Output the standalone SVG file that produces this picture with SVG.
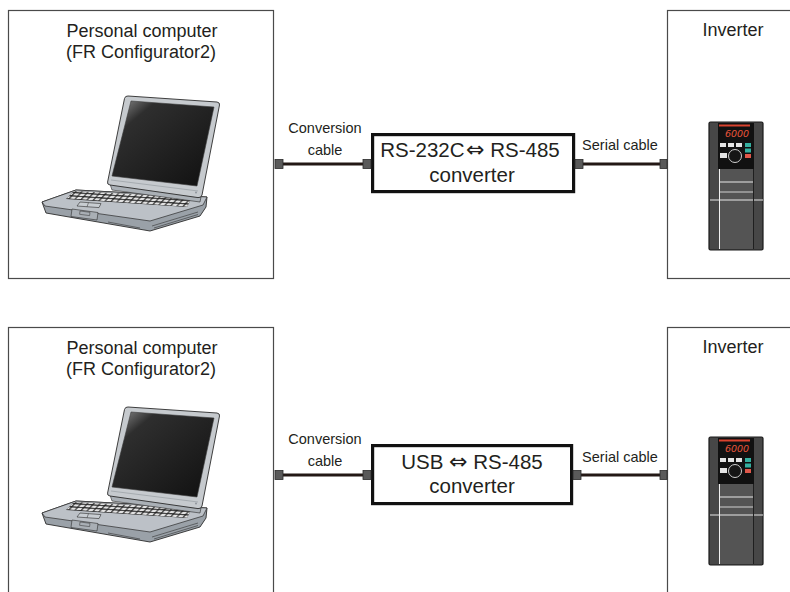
<svg xmlns="http://www.w3.org/2000/svg" width="790" height="592" viewBox="0 0 790 592">
  <style>
    .frame { fill: #ffffff; stroke: #4a4a4a; stroke-width: 1.2; }
    .conv { fill: #ffffff; stroke: #111111; stroke-width: 3.2; }
    .lbl { font-family: "Liberation Sans", Arial, sans-serif; fill: #231f20; text-anchor: middle; }
    .big { font-size: 18px; }
    .small { font-size: 14.5px; }
    .cvt { font-size: 20.5px; }
    .arrow { font-family: "DejaVu Sans", sans-serif; font-size: 22px; }
    .cable { stroke: #231815; stroke-width: 3.2; fill: none; }
    .plug { fill: #5a5a5a; stroke: #2a2a2a; stroke-width: 0.8; }
  </style>
  <defs>
    <linearGradient id="screenGrad" x1="0" y1="0" x2="1" y2="1">
      <stop offset="0" stop-color="#9a9a9a"/>
      <stop offset="0.22" stop-color="#2e2e2e"/>
      <stop offset="1" stop-color="#101010"/>
    </linearGradient>
    <pattern id="keys" width="6" height="3.4" patternUnits="userSpaceOnUse" patternTransform="rotate(4) skewX(-38)">
      <rect x="0.6" y="0.5" width="4.7" height="2.3" fill="#e2e2e2"/>
    </pattern>

    <!-- notebook PC -->
    <g id="laptop">
      <!-- base body -->
      <polygon points="42,202 76,190 207,197 206,207 200,216 150,231 46,213" fill="#9aa1a8" stroke="#2b2b2b" stroke-width="0.9"/>
      <!-- deck surface -->
      <polygon points="42,202 76,190 207,197 203,205 150,221 45,206" fill="#bcc1c7" stroke="#2b2b2b" stroke-width="0.7"/>
      <!-- front grooves -->
      <path d="M152,226 L198,212 M154,228 L198,214.5 M108,222 L140,228" stroke="#333" stroke-width="0.6" fill="none"/>
      <!-- keyboard -->
      <polygon points="74,191 192,197 187,207 66,199" fill="#1e1e1e"/>
      <polygon points="74,191 192,197 187,207 66,199" fill="url(#keys)"/>
      <!-- touchpad and buttons -->
      <polygon points="80,202 101,203.6 99,207.6 77,206" fill="#c8cdd2" stroke="#2b2b2b" stroke-width="0.6"/>
      <line x1="88.5" y1="202.6" x2="87" y2="206.8" stroke="#2b2b2b" stroke-width="0.5"/>
      <!-- front recess -->
      <polygon points="72,209 98,212.5 97,220 71,216.5" fill="#a9afb5" stroke="#2b2b2b" stroke-width="0.6"/>
      <polygon points="80,211 90,212.3 89.6,215.6 79.6,214.3" fill="none" stroke="#2b2b2b" stroke-width="0.5"/>
      <!-- hinge -->
      <polygon points="110,184 201,197 200,202 112,190" fill="#aab0b6" stroke="#2b2b2b" stroke-width="0.6"/>
      <!-- lid -->
      <path d="M128,96 L217,102 Q220,102.5 219.5,105 L202,195 Q201,198 198,197.6 L110,185 Q107,184.5 107.6,182 L124.5,98.5 Q125.2,95.8 128,96 Z" fill="#c6cace" stroke="#2b2b2b" stroke-width="0.9"/>
      <!-- screen -->
      <polygon points="131,101 214,107 197,186 112,176" fill="url(#screenGrad)" stroke="#3a3a3a" stroke-width="0.6"/>
      <line x1="111" y1="180" x2="198" y2="191" stroke="#8f959b" stroke-width="0.6"/>
      <circle cx="196" cy="192.5" r="1" fill="#8f959b"/>
    </g>

    <!-- inverter unit -->
    <g id="inverter">
      <rect x="709" y="122" width="54" height="128" rx="1.5" fill="#474747" stroke="#1a1a1a" stroke-width="1.2"/>
      <rect x="719" y="123" width="34" height="126" fill="#545454"/>
      <rect x="718" y="123" width="36" height="46" fill="#111111"/>
      <rect x="719" y="124.5" width="31" height="2" fill="#d9432f"/>
      <text x="737" y="137" font-family="'DejaVu Sans', sans-serif" font-size="9.5" font-style="italic" fill="#e8553b" text-anchor="middle">6000</text>
      <rect x="720" y="143" width="6" height="4" fill="#e4e4e4"/>
      <rect x="728" y="143" width="6" height="4" fill="#e4e4e4"/>
      <rect x="736" y="143" width="6" height="4" fill="#e4e4e4"/>
      <rect x="745" y="143" width="6" height="4" fill="#35b0a0"/>
      <rect x="745" y="148.5" width="6" height="4" fill="#35b0a0"/>
      <rect x="745" y="154" width="6" height="4" fill="#e0584a"/>
      <rect x="720" y="153" width="7" height="5" fill="#e4e4e4"/>
      <circle cx="735" cy="156" r="6.5" fill="#151515" stroke="#cfcfcf" stroke-width="1"/>
      <line x1="719" y1="182" x2="753" y2="182" stroke="#e8e8e8" stroke-width="1"/>
      <line x1="719" y1="192" x2="753" y2="192" stroke="#d0d0d0" stroke-width="1"/>
      <line x1="710" y1="200" x2="763" y2="200" stroke="#e8e8e8" stroke-width="1"/>
      <line x1="719.5" y1="169" x2="719.5" y2="249" stroke="#f0f0f0" stroke-width="1"/>
      <line x1="753.5" y1="169" x2="753.5" y2="249" stroke="#1f1f1f" stroke-width="1"/>
    </g>
  </defs>

  <!-- upper arrangement: RS-232C link -->
  <g id="pc-top">
    <rect class="frame" x="8.5" y="10.5" width="265" height="268"/>
    <text class="lbl big" x="142" y="37">Personal computer</text>
    <text class="lbl big" x="141" y="58">(FR Configurator2)</text>
    <use href="#laptop"/>
  </g>
  <g id="converter-top">
    <rect class="conv" x="372.6" y="134.6" width="201" height="57"/>
    <text class="lbl cvt" x="470" y="157">RS-232C<tspan class="arrow" dx="1.5">⇔</tspan> RS-485</text>
    <text class="lbl cvt" x="472" y="182">converter</text>
  </g>
  <g id="inverter-top">
    <rect class="frame" x="667.5" y="10.5" width="130" height="268"/>
    <text class="lbl big" x="733" y="36">Inverter</text>
    <use href="#inverter"/>
  </g>

  <!-- lower arrangement: USB link -->
  <g id="pc-bottom">
    <rect class="frame" x="8.5" y="327.5" width="265" height="270"/>
    <text class="lbl big" x="142" y="354">Personal computer</text>
    <text class="lbl big" x="141" y="375">(FR Configurator2)</text>
    <use href="#laptop" transform="translate(0,311)"/>
  </g>
  <g id="converter-bottom">
    <rect class="conv" x="372.6" y="445.6" width="199" height="58"/>
    <text class="lbl cvt" x="472" y="469">USB <tspan class="arrow">⇔</tspan> RS-485</text>
    <text class="lbl cvt" x="472" y="493">converter</text>
  </g>
  <g id="inverter-bottom">
    <rect class="frame" x="667.5" y="327.5" width="130" height="270"/>
    <text class="lbl big" x="733" y="353">Inverter</text>
    <use href="#inverter" transform="translate(0,315)"/>
  </g>

  <!-- cables -->
  <g id="connectors">
    <line class="cable" x1="282" y1="164" x2="364" y2="164"/>
    <rect class="plug" x="275" y="159.5" width="8" height="9"/>
    <rect class="plug" x="363" y="159.5" width="8" height="9"/>
    <line class="cable" x1="582" y1="164" x2="661" y2="164"/>
    <rect class="plug" x="575" y="159.5" width="8" height="9"/>
    <rect class="plug" x="660" y="159.5" width="7" height="9"/>
    <text class="lbl small" x="325" y="133">Conversion</text>
    <text class="lbl small" x="325" y="155">cable</text>
    <text class="lbl small" x="620" y="150">Serial cable</text>

    <line class="cable" x1="282" y1="475" x2="364" y2="475"/>
    <rect class="plug" x="275" y="470.5" width="8" height="9"/>
    <rect class="plug" x="363" y="470.5" width="8" height="9"/>
    <line class="cable" x1="580" y1="475" x2="661" y2="475"/>
    <rect class="plug" x="573" y="470.5" width="8" height="9"/>
    <rect class="plug" x="660" y="470.5" width="7" height="9"/>
    <text class="lbl small" x="325" y="444">Conversion</text>
    <text class="lbl small" x="325" y="466">cable</text>
    <text class="lbl small" x="620" y="462">Serial cable</text>
  </g>
</svg>
